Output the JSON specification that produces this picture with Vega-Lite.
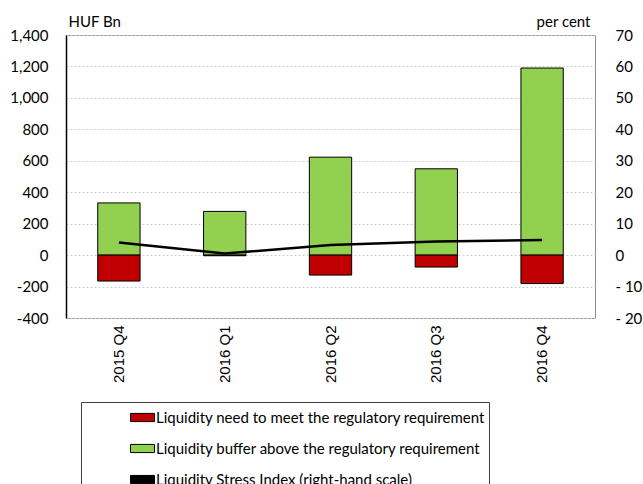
{
  "$schema": "https://vega.github.io/schema/vega-lite/v6.json",
  "width": 529,
  "height": 283,
  "autosize": {"type": "none"},
  "padding": {"left": 66, "top": 35, "right": 48, "bottom": 166},
  "background": "white",
  "config": {
    "font": "Lato",
    "view": {"stroke": "#8c8c8c", "strokeWidth": 1}
  },
  "datasets": {
    "bars": [
      {"quarter": "2015 Q4", "series": "Liquidity buffer above the regulatory requirement", "value": 332},
      {"quarter": "2015 Q4", "series": "Liquidity need to meet the regulatory requirement", "value": -165},
      {"quarter": "2016 Q1", "series": "Liquidity buffer above the regulatory requirement", "value": 278},
      {"quarter": "2016 Q1", "series": "Liquidity need to meet the regulatory requirement", "value": -4},
      {"quarter": "2016 Q2", "series": "Liquidity buffer above the regulatory requirement", "value": 623},
      {"quarter": "2016 Q2", "series": "Liquidity need to meet the regulatory requirement", "value": -127},
      {"quarter": "2016 Q3", "series": "Liquidity buffer above the regulatory requirement", "value": 549},
      {"quarter": "2016 Q3", "series": "Liquidity need to meet the regulatory requirement", "value": -76},
      {"quarter": "2016 Q4", "series": "Liquidity buffer above the regulatory requirement", "value": 1190},
      {"quarter": "2016 Q4", "series": "Liquidity need to meet the regulatory requirement", "value": -181}
    ],
    "index": [
      {"quarter": "2015 Q4", "series": "Liquidity Stress Index (right-hand scale)", "value": 4.0},
      {"quarter": "2016 Q1", "series": "Liquidity Stress Index (right-hand scale)", "value": 0.5},
      {"quarter": "2016 Q2", "series": "Liquidity Stress Index (right-hand scale)", "value": 3.2},
      {"quarter": "2016 Q3", "series": "Liquidity Stress Index (right-hand scale)", "value": 4.3},
      {"quarter": "2016 Q4", "series": "Liquidity Stress Index (right-hand scale)", "value": 4.8}
    ]
  },
  "encoding": {
    "x": {
      "field": "quarter",
      "type": "nominal",
      "sort": null,
      "scale": {"paddingInner": 0.6, "paddingOuter": 0.3},
      "axis": {
        "title": null,
        "labelAngle": -90,
        "labelFont": "Liberation Sans",
        "labelFontSize": 15,
        "labelColor": "#000",
        "labelPadding": 7,
        "ticks": false,
        "domain": false
      }
    }
  },
  "layer": [
    {
      "data": {"name": "bars"},
      "layer": [
        {
          "mark": {"type": "rule", "color": "#7f7f7f", "strokeWidth": 1.5},
          "encoding": {
            "y": {
              "datum": 0,
              "type": "quantitative",
              "scale": {"domain": [-400, 1400], "nice": false, "zero": false},
              "axis": {
                "orient": "left",
                "values": [-400, -200, 0, 200, 400, 600, 800, 1000, 1200, 1400],
                "labelExpr": "(datum.value < 0 ? '-' : '') + format(abs(datum.value), ',d')",
                "labelOverlap": false,
                "labelFontSize": 15,
                "labelColor": "#000",
                "labelPadding": 18,
                "ticks": false,
                "domainColor": "#000",
                "domainWidth": 1.5,
                "grid": true,
                "gridColor": "#d0d0d0",
                "gridDash": [2, 2],
                "gridWidth": 1,
                "title": "HUF Bn",
                "titleAngle": 0,
                "titleAlign": "left",
                "titleBaseline": "alphabetic",
                "titleX": 2,
                "titleY": -9,
                "titleFontSize": 15,
                "titleFontWeight": "normal",
                "titleColor": "#000"
              }
            }
          }
        },
        {
          "mark": {"type": "bar", "stroke": "#000", "strokeWidth": 1},
          "encoding": {
            "y": {
              "field": "value",
              "type": "quantitative",
              "scale": {"domain": [-400, 1400], "nice": false, "zero": false},
              "axis": {
                "orient": "left",
                "values": [-400, -200, 0, 200, 400, 600, 800, 1000, 1200, 1400],
                "labelExpr": "(datum.value < 0 ? '-' : '') + format(abs(datum.value), ',d')",
                "labelOverlap": false,
                "labelFontSize": 15,
                "labelColor": "#000",
                "labelPadding": 18,
                "ticks": false,
                "domainColor": "#000",
                "domainWidth": 1.5,
                "grid": true,
                "gridColor": "#d0d0d0",
                "gridDash": [2, 2],
                "gridWidth": 1,
                "title": "HUF Bn",
                "titleAngle": 0,
                "titleAlign": "left",
                "titleBaseline": "alphabetic",
                "titleX": 2,
                "titleY": -9,
                "titleFontSize": 15,
                "titleFontWeight": "normal",
                "titleColor": "#000"
              }
            },
            "color": {
              "field": "series",
              "type": "nominal",
              "scale": {
                "domain": [
                  "Liquidity need to meet the regulatory requirement",
                  "Liquidity buffer above the regulatory requirement",
                  "Liquidity Stress Index (right-hand scale)"
                ],
                "range": ["#c00000", "#92d050", "#000000"]
              },
              "legend": {
                "title": null,
                "orient": "none",
                "legendX": 15,
                "legendY": 367,
                "direction": "vertical",
                "strokeColor": "#404040",
                "fillColor": "white",
                "padding": 3,
                "symbolOffset": 46,
                "symbolSize": 576,
                "symbolType": "M-1,-0.34H1V0.34H-1Z",
                "symbolStrokeColor": "#000",
                "symbolStrokeWidth": 1,
                "symbolOpacity": 1,
                "labelOffset": 1,
                "labelFontSize": 15,
                "labelColor": "#000",
                "labelLimit": 0,
                "rowPadding": 10,
                "labelExpr": "datum.label + '            '"
              }
            }
          }
        }
      ]
    },
    {
      "data": {"name": "index"},
      "mark": {"type": "line", "strokeWidth": 2.5, "color": "#000"},
      "encoding": {
        "y": {
          "field": "value",
          "type": "quantitative",
          "scale": {"domain": [-20, 70], "nice": false, "zero": false},
          "axis": {
            "orient": "right",
            "values": [-20, -10, 0, 10, 20, 30, 40, 50, 60, 70],
            "labelExpr": "datum.value < 0 ? '- ' + abs(datum.value) : datum.label",
            "labelOverlap": false,
            "labelFontSize": 15,
            "labelColor": "#000",
            "labelPadding": 20,
            "ticks": false,
            "domain": false,
            "grid": false,
            "title": "per cent",
            "titleAngle": 0,
            "titleAlign": "right",
            "titleBaseline": "alphabetic",
            "titleX": -5,
            "titleY": -9,
            "titleFontSize": 15,
            "titleFontWeight": "normal",
            "titleColor": "#000"
          }
        },
        "detail": {"field": "series", "type": "nominal"}
      }
    }
  ],
  "resolve": {"scale": {"y": "independent"}}
}
